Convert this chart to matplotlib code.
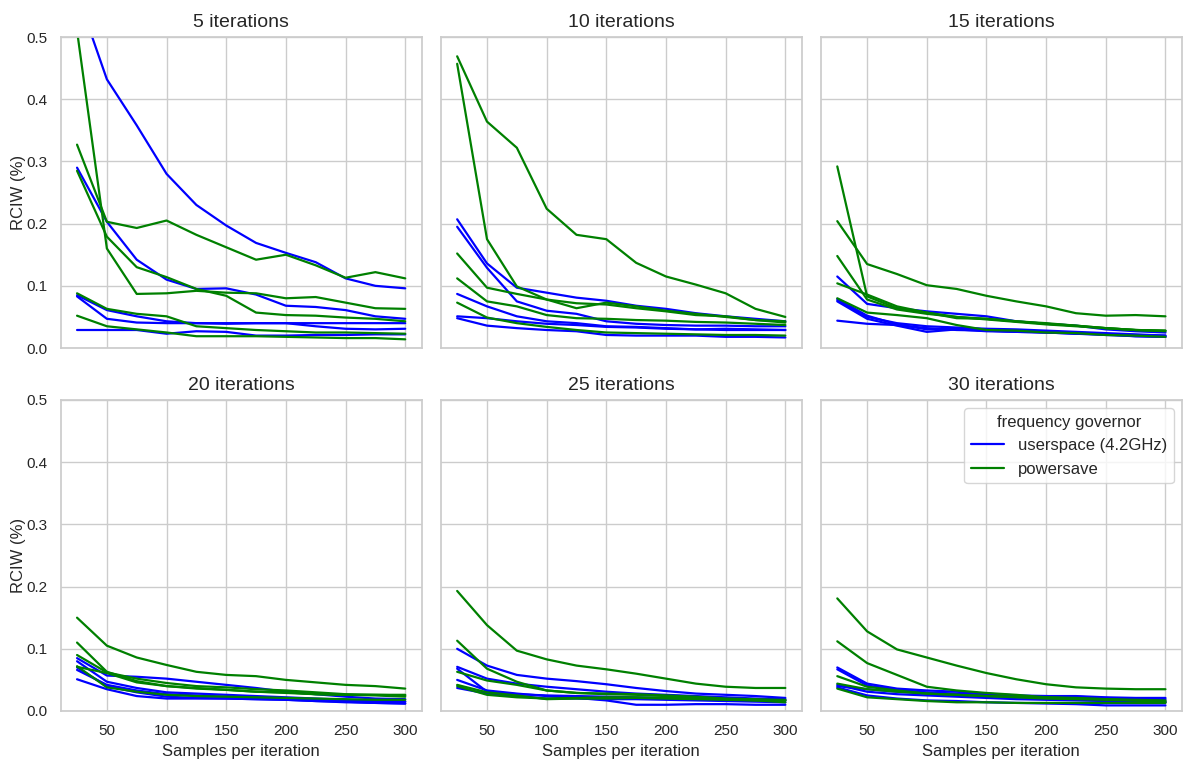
#!/usr/bin/env python3
# -*- coding: utf-8 -*-
"""
RCIW vs samples per iteration, one panel per iteration count.
"""

import matplotlib
matplotlib.use("Agg")
import matplotlib.pyplot as plt
import seaborn as sns

sns.set_theme(style="whitegrid")
plt.rcParams['font.family'] = ['Liberation Sans', 'DejaVu Sans']

# x axis: samples per iteration
samples = [25, 50, 75, 100, 125, 150, 175, 200, 225, 250, 275, 300]

# one row per benchmark, RCIW values
userspace_5 = [
    [0.570, 0.432, 0.358, 0.280, 0.230, 0.197, 0.169, 0.153, 0.138, 0.112, 0.100, 0.096],
    [0.290, 0.203, 0.142, 0.110, 0.095, 0.096, 0.086, 0.068, 0.066, 0.061, 0.051, 0.047],
    [0.083, 0.047, 0.041, 0.040, 0.040, 0.040, 0.040, 0.040, 0.040, 0.040, 0.040, 0.040],
    [0.085, 0.061, 0.051, 0.043, 0.040, 0.039, 0.040, 0.040, 0.035, 0.031, 0.030, 0.031],
    [0.029, 0.029, 0.029, 0.023, 0.027, 0.026, 0.020, 0.020, 0.021, 0.021, 0.022, 0.022],
]
powersave_5 = [
    [0.510, 0.160, 0.087, 0.088, 0.092, 0.089, 0.088, 0.080, 0.082, 0.073, 0.064, 0.063],
    [0.327, 0.203, 0.193, 0.205, 0.182, 0.162, 0.142, 0.150, 0.133, 0.113, 0.122, 0.112],
    [0.285, 0.179, 0.130, 0.114, 0.095, 0.084, 0.057, 0.053, 0.052, 0.049, 0.047, 0.043],
    [0.088, 0.063, 0.055, 0.051, 0.035, 0.032, 0.029, 0.027, 0.025, 0.025, 0.024, 0.023],
    [0.052, 0.035, 0.030, 0.025, 0.019, 0.019, 0.019, 0.018, 0.017, 0.016, 0.016, 0.014],
]

userspace_10 = [
    [0.207, 0.136, 0.097, 0.089, 0.081, 0.076, 0.068, 0.063, 0.056, 0.051, 0.047, 0.043],
    [0.195, 0.129, 0.075, 0.060, 0.055, 0.043, 0.039, 0.037, 0.036, 0.036, 0.035, 0.035],
    [0.087, 0.067, 0.051, 0.043, 0.040, 0.035, 0.034, 0.032, 0.030, 0.031, 0.030, 0.029],
    [0.051, 0.048, 0.043, 0.039, 0.037, 0.034, 0.033, 0.031, 0.030, 0.029, 0.029, 0.029],
    [0.048, 0.036, 0.032, 0.029, 0.027, 0.021, 0.020, 0.020, 0.020, 0.018, 0.018, 0.017],
]
powersave_10 = [
    [0.469, 0.364, 0.322, 0.224, 0.182, 0.175, 0.137, 0.115, 0.102, 0.088, 0.063, 0.050],
    [0.457, 0.175, 0.099, 0.078, 0.064, 0.073, 0.067, 0.060, 0.055, 0.050, 0.045, 0.041],
    [0.152, 0.097, 0.087, 0.078, 0.072, 0.070, 0.064, 0.059, 0.053, 0.051, 0.045, 0.043],
    [0.112, 0.075, 0.067, 0.053, 0.048, 0.047, 0.045, 0.044, 0.042, 0.041, 0.039, 0.037],
    [0.073, 0.049, 0.040, 0.034, 0.029, 0.025, 0.024, 0.023, 0.022, 0.021, 0.021, 0.020],
]

userspace_15 = [
    [0.115, 0.071, 0.064, 0.059, 0.055, 0.051, 0.043, 0.039, 0.036, 0.030, 0.027, 0.025],
    [0.079, 0.052, 0.038, 0.030, 0.031, 0.028, 0.027, 0.025, 0.024, 0.022, 0.019, 0.018],
    [0.075, 0.047, 0.036, 0.026, 0.030, 0.027, 0.026, 0.025, 0.023, 0.021, 0.019, 0.018],
    [0.044, 0.039, 0.037, 0.032, 0.029, 0.028, 0.026, 0.025, 0.023, 0.022, 0.021, 0.020],
    [0.077, 0.050, 0.040, 0.035, 0.033, 0.031, 0.030, 0.028, 0.026, 0.024, 0.022, 0.020],
]
powersave_15 = [
    [0.292, 0.083, 0.064, 0.057, 0.050, 0.046, 0.042, 0.038, 0.035, 0.032, 0.029, 0.027],
    [0.204, 0.135, 0.119, 0.101, 0.095, 0.084, 0.075, 0.067, 0.056, 0.052, 0.053, 0.051],
    [0.148, 0.078, 0.062, 0.055, 0.050, 0.047, 0.043, 0.040, 0.036, 0.032, 0.029, 0.028],
    [0.104, 0.086, 0.067, 0.057, 0.048, 0.047, 0.043, 0.039, 0.036, 0.032, 0.029, 0.028],
    [0.080, 0.057, 0.053, 0.048, 0.037, 0.029, 0.028, 0.025, 0.024, 0.021, 0.020, 0.018],
]

userspace_20 = [
    [0.085, 0.057, 0.055, 0.052, 0.047, 0.042, 0.037, 0.031, 0.027, 0.023, 0.020, 0.019],
    [0.080, 0.047, 0.037, 0.030, 0.028, 0.026, 0.024, 0.022, 0.020, 0.018, 0.016, 0.015],
    [0.070, 0.040, 0.030, 0.023, 0.021, 0.020, 0.019, 0.018, 0.016, 0.014, 0.013, 0.012],
    [0.051, 0.035, 0.024, 0.020, 0.020, 0.020, 0.019, 0.018, 0.016, 0.015, 0.013, 0.012],
    [0.066, 0.042, 0.033, 0.027, 0.025, 0.023, 0.022, 0.020, 0.019, 0.017, 0.016, 0.015],
]
powersave_20 = [
    [0.150, 0.105, 0.086, 0.074, 0.063, 0.058, 0.056, 0.050, 0.046, 0.042, 0.040, 0.036],
    [0.110, 0.063, 0.048, 0.040, 0.036, 0.034, 0.031, 0.029, 0.027, 0.026, 0.025, 0.023],
    [0.090, 0.062, 0.052, 0.045, 0.040, 0.038, 0.035, 0.033, 0.030, 0.027, 0.026, 0.025],
    [0.072, 0.038, 0.031, 0.026, 0.024, 0.023, 0.022, 0.021, 0.020, 0.019, 0.018, 0.018],
    [0.071, 0.061, 0.046, 0.040, 0.037, 0.034, 0.031, 0.030, 0.027, 0.026, 0.026, 0.026],
]

userspace_25 = [
    [0.100, 0.073, 0.058, 0.052, 0.048, 0.043, 0.037, 0.032, 0.028, 0.026, 0.024, 0.021],
    [0.071, 0.052, 0.044, 0.039, 0.035, 0.031, 0.028, 0.026, 0.024, 0.022, 0.020, 0.019],
    [0.068, 0.031, 0.027, 0.025, 0.024, 0.023, 0.022, 0.021, 0.020, 0.019, 0.018, 0.017],
    [0.050, 0.033, 0.028, 0.024, 0.021, 0.017, 0.010, 0.010, 0.011, 0.011, 0.010, 0.010],
    [0.037, 0.028, 0.024, 0.020, 0.020, 0.019, 0.019, 0.018, 0.017, 0.016, 0.015, 0.014],
]
powersave_25 = [
    [0.193, 0.138, 0.097, 0.083, 0.073, 0.067, 0.060, 0.052, 0.044, 0.039, 0.037, 0.037],
    [0.113, 0.068, 0.047, 0.033, 0.029, 0.028, 0.027, 0.025, 0.023, 0.020, 0.019, 0.017],
    [0.063, 0.049, 0.042, 0.033, 0.029, 0.027, 0.026, 0.024, 0.022, 0.019, 0.017, 0.014],
    [0.042, 0.030, 0.025, 0.019, 0.020, 0.020, 0.021, 0.020, 0.019, 0.018, 0.017, 0.017],
    [0.040, 0.026, 0.022, 0.020, 0.021, 0.022, 0.022, 0.021, 0.020, 0.019, 0.018, 0.018],
]

userspace_30 = [
    [0.070, 0.044, 0.036, 0.033, 0.031, 0.028, 0.025, 0.024, 0.023, 0.021, 0.019, 0.019],
    [0.067, 0.041, 0.034, 0.030, 0.028, 0.026, 0.024, 0.024, 0.024, 0.022, 0.021, 0.021],
    [0.042, 0.031, 0.027, 0.025, 0.023, 0.021, 0.019, 0.018, 0.017, 0.016, 0.015, 0.014],
    [0.038, 0.025, 0.020, 0.017, 0.016, 0.014, 0.013, 0.012, 0.011, 0.009, 0.009, 0.009],
    [0.040, 0.035, 0.031, 0.028, 0.026, 0.024, 0.022, 0.020, 0.018, 0.017, 0.016, 0.015],
]
powersave_30 = [
    [0.181, 0.128, 0.099, 0.086, 0.073, 0.061, 0.051, 0.043, 0.038, 0.036, 0.035, 0.035],
    [0.112, 0.077, 0.058, 0.039, 0.033, 0.029, 0.026, 0.022, 0.021, 0.019, 0.017, 0.014],
    [0.056, 0.039, 0.033, 0.028, 0.026, 0.024, 0.022, 0.020, 0.019, 0.018, 0.017, 0.016],
    [0.044, 0.035, 0.031, 0.028, 0.026, 0.024, 0.023, 0.022, 0.020, 0.019, 0.018, 0.017],
    [0.036, 0.022, 0.019, 0.016, 0.014, 0.014, 0.013, 0.013, 0.013, 0.013, 0.013, 0.013],
]

iterations = [5, 10, 15, 20, 25, 30]
userspace = [userspace_5, userspace_10, userspace_15, userspace_20, userspace_25, userspace_30]
powersave = [powersave_5, powersave_10, powersave_15, powersave_20, powersave_25, powersave_30]


fig, axes = plt.subplots(2, 3, figsize=(11.89, 7.65), dpi=100, sharex=True, sharey=True)
plt.subplots_adjust(left=0.051, right=0.994, top=0.9516, bottom=0.0706,
                    wspace=0.053, hspace=0.167)

for ax, it, us, ps in zip(axes.flat, iterations, userspace, powersave):
    for k, row in enumerate(us):
        ax.plot(samples, row, color='blue', lw=1.6,
                label='userspace (4.2GHz)' if k == 0 else None)
    for k, row in enumerate(ps):
        ax.plot(samples, row, color='green', lw=1.6,
                label='powersave' if k == 0 else None)
    ax.set_title(f"{it} iterations", fontsize=14, pad=7)
    ax.set_ylim(0, 0.5)
    ax.set_xticks([50, 100, 150, 200, 250, 300])
    ax.set_yticks([0.0, 0.1, 0.2, 0.3, 0.4, 0.5])
    ax.tick_params(labelsize=11)

for ax in axes[1]:
    ax.set_xlabel("Samples per iteration", fontsize=12)
for ax in axes[:, 0]:
    ax.set_ylabel("RCIW (%)", fontsize=12, labelpad=0)

axes[1, 2].legend(title="frequency governor", loc="upper right",
                  fontsize=12, title_fontsize=12)

fig.savefig("out.png", dpi=100)
plt.close()
